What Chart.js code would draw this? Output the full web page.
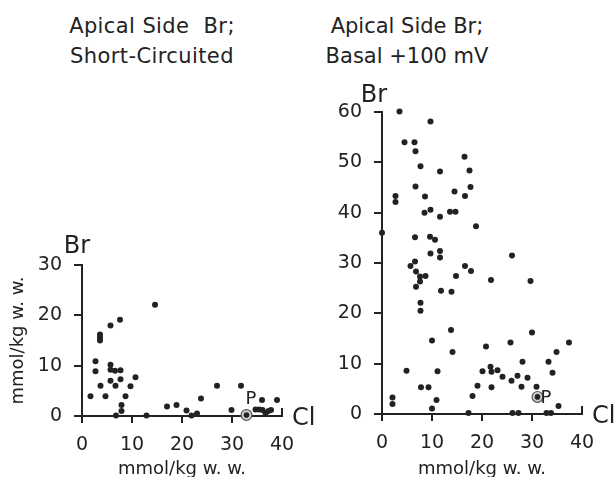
<!DOCTYPE html>
<html>
<head>
<meta charset="utf-8">
<script src="https://cdn.jsdelivr.net/npm/chart.js@4.4.1/dist/chart.umd.min.js"></script>
<style>
  body { margin: 0; background: #fff; }
  #wrap { position: relative; width: 616px; height: 477px; overflow: hidden; }
  canvas { position: absolute; top: 0; }
  .ttl { position: absolute; top: 11px; width: 300px; text-align: center;
         font: 21px "DejaVu Sans"; line-height: 30px; color: #222; white-space: pre; }
</style>
</head>
<body>
<div id="wrap">
  <div class="ttl" style="left:2px; letter-spacing:0.4px">Apical Side  Br;
Short-Circuited</div>
  <div class="ttl" style="left:257px">Apical Side Br;
Basal +100 mV</div>
  <canvas id="chartL" width="330" height="477" style="left:0"></canvas>
  <canvas id="chartR" width="308" height="477" style="left:308px"></canvas>
</div>
<script>
// left panel: apical side Br, short-circuited
var leftCl = [1.7, 2.7, 2.7, 3.6, 3.6, 3.6, 3.7, 4.7, 5.7, 5.7, 5.7, 6.6, 5.7, 6.7, 7.6,
              7.7, 7.7, 8.7, 9.7, 10.7, 7.9, 7.9, 6.8, 12.9, 14.6, 17.0, 18.9, 20.9, 21.9,
              23.0, 23.8, 27.0, 29.9, 31.8, 34.7, 35.4, 36.0, 36.1, 36.7, 37.3, 37.8, 39.0];
var leftBr = [3.9, 10.9, 8.9, 16.2, 15.6, 15.0, 6.0, 3.9, 18.0, 10.2, 9.2, 9.0, 7.0, 6.0, 19.1,
              9.1, 7.3, 3.9, 5.9, 7.7, 2.2, 1.0, 0.1, 0.1, 22.1, 1.9, 2.2, 1.1, 0.1,
              0.5, 3.5, 6.0, 1.2, 6.0, 1.3, 1.3, 3.2, 1.2, 0.6, 1.0, 1.2, 3.2];
var leftP = { cl: 32.9, br: 0.2 };

// right panel: apical side Br, basal +100 mV
var rightCl = [3.5, 9.7, 4.5, 6.5, 6.7, 7.7, 16.5, 11.6, 17.5, 6.7, 17.7, 8.6, 14.5, 16.6, 2.7,
               2.7, 8.5, 9.7, 11.6, 13.6, 14.7, 18.8, 0.0,
               6.6, 9.6, 10.6, 9.7, 11.6, 11.6, 26.0, 6.6, 5.7, 6.8, 7.6, 8.7, 7.6, 6.8,
               14.8, 16.6, 17.8, 11.8, 13.9, 21.8, 29.7, 7.7, 7.7,
               30.0, 13.8, 14.1, 10.0, 20.8, 25.7, 37.4, 34.9,
               33.3, 28.1, 4.9, 11.1, 20.1, 21.7, 21.9, 23.1, 24.1, 27.1, 29.1, 34.1, 25.9,
               27.9, 30.9, 19.1, 21.9, 18.1, 7.8, 9.3, 2.1, 2.1, 10.9, 10.0, 35.3,
               17.3, 26.1, 27.3, 32.9, 33.8];
var rightBr = [60.1, 58.1, 54.0, 54.0, 52.2, 49.2, 51.1, 48.2, 48.4, 45.2, 45.1, 43.2, 44.2, 43.3, 43.3,
               42.1, 40.0, 40.6, 39.2, 40.2, 40.2, 37.3, 36.0,
               35.1, 35.2, 34.6, 31.9, 32.4, 31.1, 31.5, 30.3, 29.4, 28.3, 27.3, 27.4, 26.3, 25.3,
               27.4, 29.4, 28.4, 24.5, 24.3, 26.6, 26.4, 22.1, 20.5,
               16.2, 16.7, 12.3, 14.6, 13.4, 14.2, 14.2, 12.3,
               10.4, 10.4, 8.6, 8.5, 8.5, 9.4, 8.4, 8.7, 7.4, 7.6, 7.2, 8.2, 6.6,
               5.4, 5.4, 5.6, 5.3, 3.6, 5.3, 5.3, 3.3, 2.0, 2.8, 1.1, 1.6,
               0.2, 0.2, 0.2, 0.2, 0.2];
var rightP = { cl: 31.1, br: 3.4 };

var clTicks = [0, 10, 20, 30, 40];
var brTicksLeft = [0, 10, 20, 30];
var brTicksRight = [0, 10, 20, 30, 40, 50, 60];

var ink = '#222';
var tickFont = { family: 'DejaVu Sans', size: 19 };

function toPoints(xs, ys) {
    var pts = [];
    for (var i = 0; i < xs.length; i++) {
        pts.push({ x: xs[i], y: ys[i] });
    }
    return pts;
}

// Br / Cl axis names, P label and the upturned end tick of the Cl axis
var axisNames = {
    id: 'axisNames',
    afterDraw: function (chart, args, opts) {
        var ctx = chart.ctx;
        var x = chart.scales.x, y = chart.scales.y;
        ctx.save();
        ctx.fillStyle = ink;
        ctx.strokeStyle = ink;
        ctx.lineWidth = 2;
        ctx.beginPath();
        ctx.moveTo(x.right, y.bottom + 1);
        ctx.lineTo(x.right, y.bottom - 8);
        ctx.stroke();

        ctx.font = '24px "DejaVu Sans"';
        ctx.textAlign = 'center';
        ctx.textBaseline = 'alphabetic';
        ctx.fillText('Br', x.left + opts.brDx, y.top - opts.brDy);
        ctx.textAlign = 'left';
        ctx.fillText('Cl', x.right + 10, y.bottom + 9);

        var p = chart.getDatasetMeta(2).data[0];
        ctx.font = '18px "DejaVu Sans"';
        ctx.fillText('P', p.x + opts.pDx, p.y + opts.pDy);
        ctx.restore();
    }
};

function makeChart(id, cl, br, p, yMax, yTicks, o) {
    var ctx = document.getElementById(id).getContext('2d');
    return new Chart(ctx, {
        type: 'scatter',
        data: {
            datasets: [{
                data: toPoints(cl, br),
                backgroundColor: ink,
                borderWidth: 0,
                pointRadius: 3,
                clip: false,
                order: 2
            }, {
                // small circle round the P point
                data: [{ x: p.cl, y: p.br }],
                backgroundColor: '#cfcfcf',
                borderColor: '#555',
                borderWidth: 1.2,
                pointRadius: 5.4,
                clip: false,
                order: 3
            }, {
                data: [{ x: p.cl, y: p.br }],
                backgroundColor: ink,
                borderWidth: 0,
                pointRadius: 2.8,
                clip: false,
                order: 1
            }]
        },
        options: {
            responsive: false,
            animation: false,
            layout: { padding: { top: o.top, right: o.right, left: 0, bottom: 0 } },
            plugins: {
                legend: { display: false },
                tooltip: { enabled: false },
                axisNames: { brDx: o.brDx, brDy: o.brDy, pDx: o.pDx, pDy: o.pDy }
            },
            scales: {
                x: {
                    type: 'linear',
                    min: 0,
                    max: 40,
                    afterBuildTicks: function (s) { s.ticks = clTicks.map(function (v) { return { value: v }; }); },
                    afterFit: function (s) { s.height = o.xHeight; },
                    ticks: { color: ink, font: tickFont, padding: 11, maxRotation: 0 },
                    grid: {
                        drawOnChartArea: false,
                        tickLength: 7,
                        lineWidth: 2,
                        color: ink,
                        tickColor: function (c) { return c.tick && c.tick.value === 40 ? 'rgba(0,0,0,0)' : ink; }
                    },
                    border: { color: ink, width: 2 },
                    title: { display: true, text: 'mmol/kg w. w.', color: ink, font: { family: 'DejaVu Sans', size: 18 }, padding: { top: 0, bottom: -3 } }
                },
                y: {
                    type: 'linear',
                    min: 0,
                    max: yMax,
                    afterBuildTicks: function (s) { s.ticks = yTicks.map(function (v) { return { value: v }; }); },
                    afterFit: function (s) { s.width = o.yWidth; },
                    ticks: { color: ink, font: tickFont, padding: 12 },
                    grid: { drawOnChartArea: false, tickLength: 8, lineWidth: 2, color: ink },
                    border: { color: ink, width: 2 },
                    title: { display: o.yTitle, text: 'mmol/kg w. w.', color: ink, font: { family: 'DejaVu Sans', size: 18 }, padding: { top: 8, bottom: 0 } }
                }
            }
        },
        plugins: [axisNames]
    });
}

makeChart('chartL', leftCl, leftBr, leftP, 30, brTicksLeft,
    { top: 265, right: 48, xHeight: 61, yWidth: 82, yTitle: true, brDx: -5, brDy: 12, pDx: -1, pDy: -11 });
makeChart('chartR', rightCl, rightBr, rightP, 60, brTicksRight,
    { top: 112, right: 34, xHeight: 63, yWidth: 74, yTitle: false, brDx: -8, brDy: 10, pDx: 3, pDy: 6 });
</script>
</body>
</html>
